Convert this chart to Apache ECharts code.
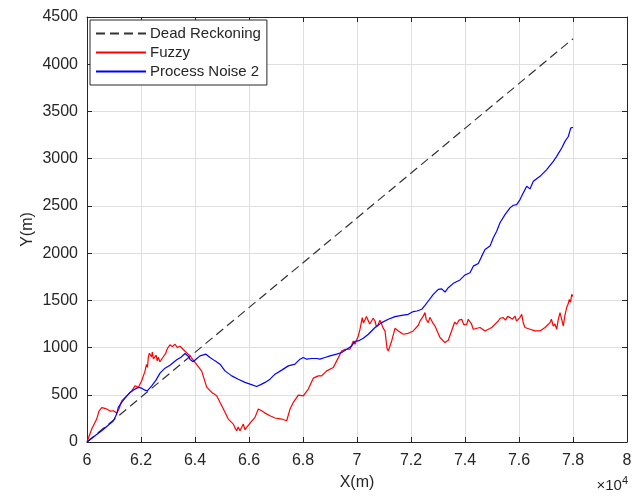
<!DOCTYPE html>
<html>
<head>
<meta charset="utf-8">
<script src="https://cdn.jsdelivr.net/npm/echarts@6/dist/echarts.min.js"></script>
<style>html,body{margin:0;padding:0;background:#fff}#c{width:640px;height:496px}</style>
</head>
<body>
<div id="c"></div>
<script>
const seriesNames = ['Dead Reckoning', 'Fuzzy', 'Process Noise 2'];
const xTicks = [60000, 80000, 2000];
const yTicks = [0, 4500, 500];

const deadReckoning = [[60000, 0], [78000, 4270]];

const fuzzy = [
[60000,0],[60174,137],[60222,158],[60359,243],[60444,327],[60544,364],[60630,359],[60730,349],
[60852,327],[60974,331],[61100,306],[61185,349],[61285,436],[61470,489],[61656,542],[61778,595],
[61900,578],[62026,648],[62148,750],[62200,820],[62240,790],[62270,898],[62310,940],[62359,951],
[62390,900],[62418,951],[62460,880],[62519,859],[62560,920],[62600,860],[62641,898],[62700,850],
[62767,834],[62820,900],[62889,898],[62920,940],[62952,972],[63000,1000],[63074,1030],[63160,1010],
[63259,1035],[63350,1000],[63444,1014],[63630,961],[63815,912],
[64000,842],[64248,750],[64433,581],[64619,525],[64804,489],[64989,383],[65111,314],[65233,243],
[65419,190],[65480,150],[65544,119],[65600,160],[65667,119],[65730,155],[65789,190],[65850,130],
[65915,155],[65974,137],[66100,222],
[66222,261],[66344,349],[66470,331],[66593,306],[66778,278],[66963,254],[67211,243],[67396,225],
[67519,349],[67641,419],[67826,496],[68011,489],[68196,560],[68381,676],[68567,700],[68689,700],
[68878,753],[69122,789],[69248,859],[69433,964],[69556,982],[69741,982],[69863,1070],[69926,1035],
[70048,1123],[70111,1194],[70150,1250],[70196,1317],[70240,1260],[70296,1281],[70350,1330],[70419,1317],
[70470,1250],[70544,1264],[70600,1310],[70667,1281],[70720,1220],[70789,1246],[70850,1290],[70915,1246],
[70980,1200],[71037,1176],[71111,993],[71159,964],[71285,1070],[71407,1204],[71530,1176],[71715,1141],
[71900,1151],[72085,1176],[72270,1236],[72330,1280],[72396,1264],[72450,1330],[72519,1370],[72560,1300],
[72641,1264],[72700,1320],[72767,1299],[72830,1250],[72889,1228],
[73074,1106],[73259,1053],[73381,1077],[73567,1228],[73620,1270],[73693,1246],[73780,1290],[73878,1299],
[73960,1240],[74063,1246],[74120,1300],[74185,1317],[74240,1250],[74307,1194],
[74556,1212],[74741,1176],[74989,1212],[75233,1281],[75300,1310],[75419,1317],[75500,1290],[75580,1330],
[75667,1317],[75760,1300],[75852,1334],[75910,1280],[75974,1264],[76040,1320],[76100,1352],[76160,1260],
[76222,1212],[76407,1194],[76593,1176],[76778,1176],[76963,1212],[77148,1264],[77200,1300],[77270,1228],
[77330,1250],[77396,1194],[77450,1290],[77519,1370],[77580,1300],[77641,1228],[77700,1340],[77767,1426],
[77820,1460],[77863,1510],[77910,1480],[77952,1563],[78000,1540]
];

const processNoise2 = [
[60000,0],[60296,67],[60544,119],[60730,164],[60789,158],[60974,222],[61100,296],[61159,367],
[61285,419],[61407,465],[61593,525],[61778,560],[61900,578],[62026,570],[62148,549],[62233,542],
[62396,595],[62556,655],[62704,729],[62889,782],[63074,813],[63322,871],[63481,898],[63630,937],
[63752,908],[63815,877],[63926,850],[64037,877],[64185,912],[64407,930],[64556,895],[64741,859],
[64926,824],[65111,753],[65359,700],[65604,665],[65852,631],[66037,613],[66285,588],[66470,613],
[66593,631],[66778,665],[66963,718],[67211,761],[67456,806],[67704,824],[67889,877],[68011,895],
[68137,877],[68322,884],[68507,884],[68630,877],[68815,895],[69000,912],[69248,930],[69433,948],
[69619,982],[69804,1017],[69926,1067],[70048,1070],[70233,1099],[70419,1141],[70667,1212],[70915,1264],
[71159,1299],[71407,1328],[71656,1341],[71900,1352],[72085,1381],[72222,1387],[72396,1405],[72519,1447],
[72641,1493],[72826,1563],[73011,1616],[73137,1621],[73259,1588],[73381,1634],[73567,1680],[73815,1716],
[74000,1769],[74185,1792],[74307,1862],[74493,1891],[74619,1968],[74741,2039],[74926,2074],[75048,2162],
[75174,2232],[75296,2321],[75481,2408],[75667,2479],[75789,2507],[75915,2514],[76037,2567],[76159,2638],
[76285,2707],[76407,2680],[76530,2760],[76778,2813],[77026,2884],[77270,2971],[77396,3024],[77582,3113],
[77704,3183],[77826,3235],[77915,3324],[78000,3333]
];

const FONT = '"Liberation Sans", Arial, sans-serif';
const AX = '#262626';
const GRID = '#dfdfdf';

const chart = echarts.init(document.getElementById('c'), null, {renderer: 'canvas'});

function xAx(pos, show) {
  return {
    type: 'value', position: pos, min: xTicks[0], max: xTicks[1], interval: xTicks[2],
    axisLine: {show: true, onZero: false, lineStyle: {color: AX, width: 1}},
    axisTick: {show: true, inside: true, length: 5, lineStyle: {color: AX}},
    splitLine: {show: show, lineStyle: {color: GRID, width: 1}},
    axisLabel: {show: show, color: AX, fontFamily: FONT, fontSize: 16, margin: 11,
      formatter: v => String(+(v / 10000).toFixed(1))},
    name: show ? 'X(m)' : '', nameLocation: 'middle', nameGap: 33, nameMoveOverlap: false,
    nameTextStyle: {color: AX, fontFamily: FONT, fontSize: 16}
  };
}
function yAx(pos, show) {
  return {
    type: 'value', position: pos, min: yTicks[0], max: yTicks[1], interval: yTicks[2],
    axisLine: {show: true, onZero: false, lineStyle: {color: AX, width: 1}},
    axisTick: {show: true, inside: true, length: 5, lineStyle: {color: AX}},
    splitLine: {show: show, lineStyle: {color: GRID, width: 1}},
    axisLabel: {show: show, color: AX, fontFamily: FONT, fontSize: 16, margin: 9,
      formatter: v => String(v)},
    name: show ? 'Y(m)' : '', nameLocation: 'middle', nameGap: 51, nameRotate: 90, nameMoveOverlap: false,
    nameTextStyle: {color: AX, fontFamily: FONT, fontSize: 16}
  };
}

chart.setOption({
  animation: false,
  backgroundColor: '#fff',
  grid: {left: 87, right: 13, top: 17, bottom: 53, containLabel: false},
  xAxis: [xAx('bottom', true), xAx('top', false)],
  yAxis: [yAx('left', true), yAx('right', false)],
  legend: {
    show: true, orient: 'vertical', left: 90, top: 20,
    data: seriesNames,
    backgroundColor: '#fff', borderColor: AX, borderWidth: 1, borderRadius: 0,
    padding: [6, 6, 6, 5], itemGap: 4, itemWidth: 50, itemHeight: 17,
    itemStyle: {opacity: 0, borderWidth: 0},
    textStyle: {color: AX, fontFamily: FONT, fontSize: 15, padding: [0, 0, 0, -1]}
  },
  graphic: [{
    type: 'text', right: 12, bottom: 3,
    style: {
      text: '×10{sup|4}', fill: AX, font: '15px ' + FONT,
      rich: {sup: {fontSize: 11, verticalAlign: 'top', padding: [0, 0, 9, 0], fill: AX, fontFamily: FONT}}
    }
  }],
  series: [
    {name: seriesNames[0], type: 'line', data: deadReckoning, symbol: 'none',
     lineStyle: {color: '#333333', width: 1.2, type: [9, 5]}, itemStyle: {color: '#333333'}},
    {name: seriesNames[1], type: 'line', data: fuzzy, symbol: 'none',
     lineStyle: {color: '#ff0000', width: 1.2}, itemStyle: {color: '#ff0000'}},
    {name: seriesNames[2], type: 'line', data: processNoise2, symbol: 'none',
     lineStyle: {color: '#0000ff', width: 1.2}, itemStyle: {color: '#0000ff'}}
  ]
});
</script>
</body>
</html>
